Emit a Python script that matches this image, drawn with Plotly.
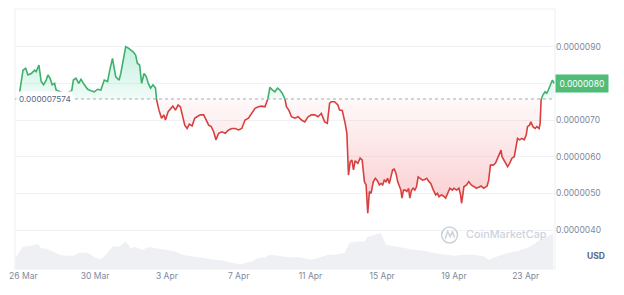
import numpy as np
import pandas as pd
import plotly.graph_objects as go

# ---------------- data ----------------
START = pd.Timestamp("2024-03-25 00:00")
base_price = 7.574e-6          # reference (period open) price

# hours since START for each price sample
price_hours = [
    19.1, 21.5, 23.5, 27.1, 30.1, 34.5, 39.1, 41.2, 44.8, 47.8, 51.0, 54.5, 56.8, 59.8, 62.5, 65.7, 67.8, 70.1,
    75.4, 80.7, 84.7,
    88.7, 90.9, 94.4, 98.0, 101.1, 105.6, 110.0, 114.4, 118.9, 123.3, 127.7, 132.2,
    136.6, 139.6, 143.2, 147.6, 152.1, 154.3, 157.5, 160.9, 164.5, 167.6,
    170.8, 174.2, 176.5, 179.5, 182.2, 185.4, 188.5, 191.1, 194.2, 197.4,
    200.8, 202.2, 205.4, 208.8, 212.0, 214.1, 217.7, 220.8, 224.0, 227.4,
    231.0, 234.1, 236.4, 239.9, 243.0, 246.1, 249.7, 253.2, 256.3, 260.7,
    265.2, 268.3, 271.9, 275.3, 278.5, 281.6, 285.2, 289.6, 294.0, 298.5,
    302.9, 307.3, 311.8, 316.2, 320.6, 325.1, 329.5, 333.9, 338.4, 342.8,
    347.2, 350.8, 353.8, 357.0, 360.5, 364.1, 367.1, 370.3, 373.8, 376.0,
    379.1, 382.7, 387.1, 391.6, 396.0, 400.4, 404.9, 409.3, 413.7, 418.2,
    422.6, 427.0, 430.6, 433.7, 435.9, 440.3, 444.8, 447.0, 450.6, 452.8,
    454.5, 456.8, 458.1, 458.9, 461.2, 463.5, 465.6, 467.8, 471.4, 474.5,
    477.2, 478.9, 480.2, 482.5, 484.7, 486.9, 489.1, 492.2, 494.9, 497.1,
    500.2, 502.4, 504.7, 506.8, 509.1, 511.3, 513.5, 515.7, 518.0, 520.1,
    522.4, 524.7, 526.8, 529.0, 530.4, 532.6, 534.8, 537.0, 539.3, 541.0,
    543.3, 545.4, 547.7, 549.9, 552.1, 554.7, 557.9, 561.0, 563.6, 566.7,
    569.0, 572.5, 575.6, 577.9, 580.0, 583.2, 585.8, 588.9, 592.0, 594.6,
    597.8, 600.0, 603.5, 606.6, 608.9, 610.2, 611.9, 613.3, 616.9, 619.9,
    623.1, 626.6, 630.2, 633.2, 636.4, 639.9, 644.4, 646.5, 648.8, 652.4,
    655.4, 658.5, 661.2, 663.0, 664.3, 666.5, 668.7, 671.8, 674.5, 677.6,
    680.7, 683.4, 685.1, 687.8, 691.0, 694.0, 696.7, 698.4, 701.1, 702.9,
    705.6, 708.6, 710.9, 714.0, 715.3, 716.6, 718.9, 722.0, 724.2, 726.3, 729.5, 731.7, 733.9,
]

# price in micro-USD (x 1e-6)
price_micro = [
    7.77, 8.09, 8.36, 8.41, 8.23, 8.27, 8.36, 8.32, 8.50, 8.05, 7.96, 8.09, 8.23, 8.14, 7.96, 8.00, 7.82, 7.80,
    7.76, 7.71, 7.76,
    7.80, 8.09, 8.14, 8.00, 8.11, 7.96, 7.84, 7.80, 7.77, 7.84, 7.82, 8.09,
    8.05, 8.36, 8.68, 8.18, 8.09, 8.27, 8.59, 9.00, 8.96, 8.91,
    8.86, 8.77, 8.55, 8.50, 8.00, 8.27, 8.18, 8.00, 7.87, 7.96,
    7.87, 7.55, 7.27, 7.05, 7.14, 7.00, 7.23, 7.32, 7.38, 7.27,
    7.41, 7.36, 7.14, 6.86, 6.77, 6.89, 6.84, 7.05, 7.09, 7.14,
    7.14, 7.00, 6.86, 6.82, 6.68, 6.46, 6.64, 6.68, 6.64, 6.73,
    6.77, 6.77, 6.73, 6.77, 7.00, 7.05, 7.18, 7.32, 7.36, 7.38,
    7.36, 7.55, 7.89, 7.82, 7.77, 7.87, 7.82, 7.73, 7.59, 7.36,
    7.27, 7.09, 7.05, 7.09, 7.00, 6.95, 7.09, 7.14, 7.14, 7.09,
    7.18, 6.95, 6.91, 7.46, 7.50, 7.50, 7.41, 7.27, 7.26, 7.09,
    6.91, 6.64, 6.00, 5.50, 5.86, 5.91, 5.64, 5.89, 5.82, 5.96,
    5.91, 5.64, 5.32, 5.23, 4.46, 5.05, 5.00, 5.32, 5.41, 5.36,
    5.23, 5.27, 5.23, 5.36, 5.32, 5.41, 5.27, 5.45, 5.64, 5.66,
    5.55, 5.32, 5.18, 5.09, 4.87, 5.09, 5.09, 5.05, 5.14, 4.87,
    5.09, 5.14, 5.09, 5.18, 5.45, 5.41, 5.36, 5.38, 5.41, 5.32,
    5.27, 5.09, 4.96, 5.00, 4.91, 4.96, 4.93, 4.87, 5.00, 5.14,
    5.09, 5.14, 5.09, 5.14, 4.96, 4.73, 4.96, 5.18, 5.23, 5.32,
    5.23, 5.18, 5.14, 5.17, 5.20, 5.14, 5.20, 5.36, 5.77, 5.77,
    5.82, 5.96, 6.09, 6.18, 6.00, 5.91, 5.86, 5.73, 5.82, 5.96,
    6.00, 6.27, 6.50, 6.46, 6.50, 6.46, 6.59, 6.82, 6.86, 6.95,
    6.82, 6.77, 6.82, 6.77, 6.91, 7.55, 7.68, 7.77, 7.73, 7.82, 8.00, 8.09, 8.00,
]

# trading volume (relative units) sampled along the period
volume_hours = [
    13.2, 23.5, 30.1, 36.8, 43.4, 47.8, 54.5, 63.4, 72.3, 81.1,
    90.0, 98.9, 107.7, 114.4, 121.0, 127.7, 134.3, 143.2, 152.1, 160.9,
    167.6, 174.2, 183.1, 192.0, 200.8, 209.7, 218.7, 227.4, 236.4, 245.3,
    254.0, 263.0, 271.9, 280.7, 289.6, 298.5, 307.3, 313.9, 320.6, 329.5,
    338.4, 347.2, 353.8, 365.0, 373.8, 382.7, 391.6, 400.4, 409.3, 422.6,
    431.5, 440.3, 453.6, 460.3, 469.2, 480.2, 484.7, 493.5, 502.4, 509.1,
    520.1, 533.4, 546.7, 560.0, 573.3, 586.6, 600.0, 613.3, 626.6, 639.9,
    646.5, 657.7, 671.0, 684.3, 697.6, 706.4, 715.3, 724.2, 733.0,
]
volume_rel = [
    11, 22.6, 22.6, 23.6, 25, 21, 20.3, 17.6, 14.3, 13.3,
    13.3, 16, 16.6, 14.3, 11, 10, 14.3, 22.6, 22.6, 27.6,
    21, 22, 19.3, 22, 21, 20.3, 19.3, 17.6, 14.3, 13.3,
    11.6, 10.6, 10, 9.3, 8.6, 7, 5.3, 4.6, 6, 7.6,
    11, 11.6, 14.3, 13.3, 12.6, 11.6, 12, 11, 9.3, 12,
    14.3, 14.3, 16, 26, 27.6, 27.6, 32, 34.3, 36, 24.3,
    22.6, 21, 19.3, 18.3, 16, 14.3, 13.3, 14.3, 14.3, 12.6,
    9.3, 12.6, 16, 17.6, 21, 24.3, 29.3, 32, 36,
]

y_ticks_micro = [4, 5, 6, 7, 8, 9]

# ---------------- styling ----------------
GREEN = "#3fb06c"
RED = "#d8403f"
GRID = "#f0f2f5"
TXT = "#808a9d"
TXT_DARK = "#58667e"
FONT = "Inter"

t = START + pd.to_timedelta(price_hours, unit="h")
p = np.array(price_micro) * 1e-6
tv = START + pd.to_timedelta(volume_hours, unit="h")
last = p[-1]

# insert the baseline-crossing points so colours switch exactly at the baseline
xs, ys = [t[0]], [p[0]]
for i in range(1, len(p)):
    a, b = p[i - 1], p[i]
    if (a - base_price) * (b - base_price) < 0:
        f = (base_price - a) / (b - a)
        xs.append(t[i - 1] + (t[i] - t[i - 1]) * f)
        ys.append(base_price)
    xs.append(t[i])
    ys.append(p[i])
ys = np.array(ys)
eps = 1e-15
above_line = np.where(ys >= base_price - eps, ys, np.nan)
below_line = np.where(ys <= base_price + eps, ys, np.nan)
above_fill = np.maximum(ys, base_price)
below_fill = np.minimum(ys, base_price)
base_arr = np.full(len(ys), base_price)

fig = go.Figure()
# green area
fig.add_trace(go.Scatter(x=xs, y=base_arr, mode="lines", line=dict(width=0), hoverinfo="skip"))
fig.add_trace(go.Scatter(
    x=xs, y=above_fill, mode="lines", line=dict(width=0), fill="tonexty",
    fillcolor="rgba(22,199,132,0.15)",
    fillgradient=dict(type="vertical", start=base_price, stop=float(p.max()),
                      colorscale=[[0, "rgba(22,199,132,0.06)"], [1, "rgba(22,199,132,0.26)"]]),
    hoverinfo="skip"))
# red area
fig.add_trace(go.Scatter(x=xs, y=base_arr, mode="lines", line=dict(width=0), hoverinfo="skip"))
fig.add_trace(go.Scatter(
    x=xs, y=below_fill, mode="lines", line=dict(width=0), fill="tonexty",
    fillcolor="rgba(234,57,67,0.12)",
    fillgradient=dict(type="vertical", start=float(p.min()), stop=base_price,
                      colorscale=[[0, "rgba(234,57,67,0.26)"], [1, "rgba(234,57,67,0.03)"]]),
    hoverinfo="skip"))
# lines
fig.add_trace(go.Scatter(x=xs, y=above_line, mode="lines", line=dict(color=GREEN, width=1.6), connectgaps=False))
fig.add_trace(go.Scatter(x=xs, y=below_line, mode="lines", line=dict(color=RED, width=1.6), connectgaps=False))
# volume
fig.add_trace(go.Scatter(x=tv, y=volume_rel, yaxis="y2", mode="lines", line=dict(width=0),
                         fill="tozeroy", fillcolor="#eef0f3", hoverinfo="skip"))

x0 = START + pd.Timedelta(hours=12.8)
x1 = START + pd.Timedelta(hours=735.2)

# the current-price tag replaces the tick label at the same level
tick_text = [f"{v * 1e-6:.7f}" if abs(v * 1e-6 - last) > 1e-9 else "" for v in y_ticks_micro]

fig.update_layout(
    width=624, height=295,
    margin=dict(l=12, r=69, t=9, b=26),
    paper_bgcolor="white", plot_bgcolor="white",
    showlegend=False,
    font=dict(family=FONT, size=8.5, color=TXT),
    xaxis=dict(type="date", range=[x0, x1], tick0="2024-03-26", dtick=4 * 86400000,
               tickformat="%-d %b", showgrid=False, zeroline=False, showline=False,
               ticks="", tickfont=dict(size=8.5, color=TXT)),
    yaxis=dict(side="right", range=[2.938e-6, 10.028e-6],
               tickvals=[v * 1e-6 for v in y_ticks_micro],
               ticktext=tick_text,
               showgrid=True, gridcolor=GRID, gridwidth=1, zeroline=False, showline=False,
               ticks="", tickfont=dict(size=8.5, color=TXT)),
    yaxis2=dict(overlaying="y", range=[0, 260], visible=False),
)

# dotted baseline
fig.add_shape(type="line", xref="paper", x0=0, x1=1, yref="y", y0=base_price, y1=base_price,
              line=dict(color="#a3aab6", width=1, dash="dot"))
# plot frame
fig.add_shape(type="rect", xref="paper", yref="paper", x0=0, x1=1, y0=0, y1=1,
              line=dict(color="#eceff3", width=1), layer="below")

# baseline label
fig.add_annotation(x=0, xref="paper", y=base_price, yref="y", xanchor="left", yanchor="middle",
                   text=f"{base_price:.9f}", showarrow=False, bgcolor="white", borderpad=2, xshift=1,
                   font=dict(size=8.2, color=TXT_DARK, family=FONT))
# current price tag
fig.add_annotation(x=1, xref="paper", y=last, yref="y", xanchor="left", yanchor="middle",
                   text=f"{last:.7f}", showarrow=False, bgcolor="#4fbd78", borderpad=3.5,
                   font=dict(size=8.5, color="white", family=FONT))
# currency label
fig.add_annotation(x=1, xref="paper", y=0.05, yref="paper", xanchor="left", yanchor="middle",
                   xshift=30, text="<b>USD</b>", showarrow=False,
                   font=dict(size=8.5, color=TXT_DARK, family=FONT))
# watermark
WM = "#cdd3dd"
fig.add_shape(type="circle", xref="paper", yref="paper", x0=0.790, x1=0.8195, y0=0.1, y1=0.1615,
              line=dict(color=WM, width=1.6))
fig.add_shape(type="path", xref="paper", yref="paper",
              path="M 0.7965 0.1154 L 0.8011 0.1442 L 0.8057 0.125 L 0.8103 0.1423 L 0.8140 0.1212",
              line=dict(color=WM, width=1.6))
fig.add_annotation(x=0.8306, xref="paper", y=0.1308, yref="paper", xanchor="left", yanchor="middle",
                   text="CoinMarketCap", showarrow=False,
                   font=dict(size=10.8, color=WM, family=FONT, weight=500))

fig.write_html("out.html")
